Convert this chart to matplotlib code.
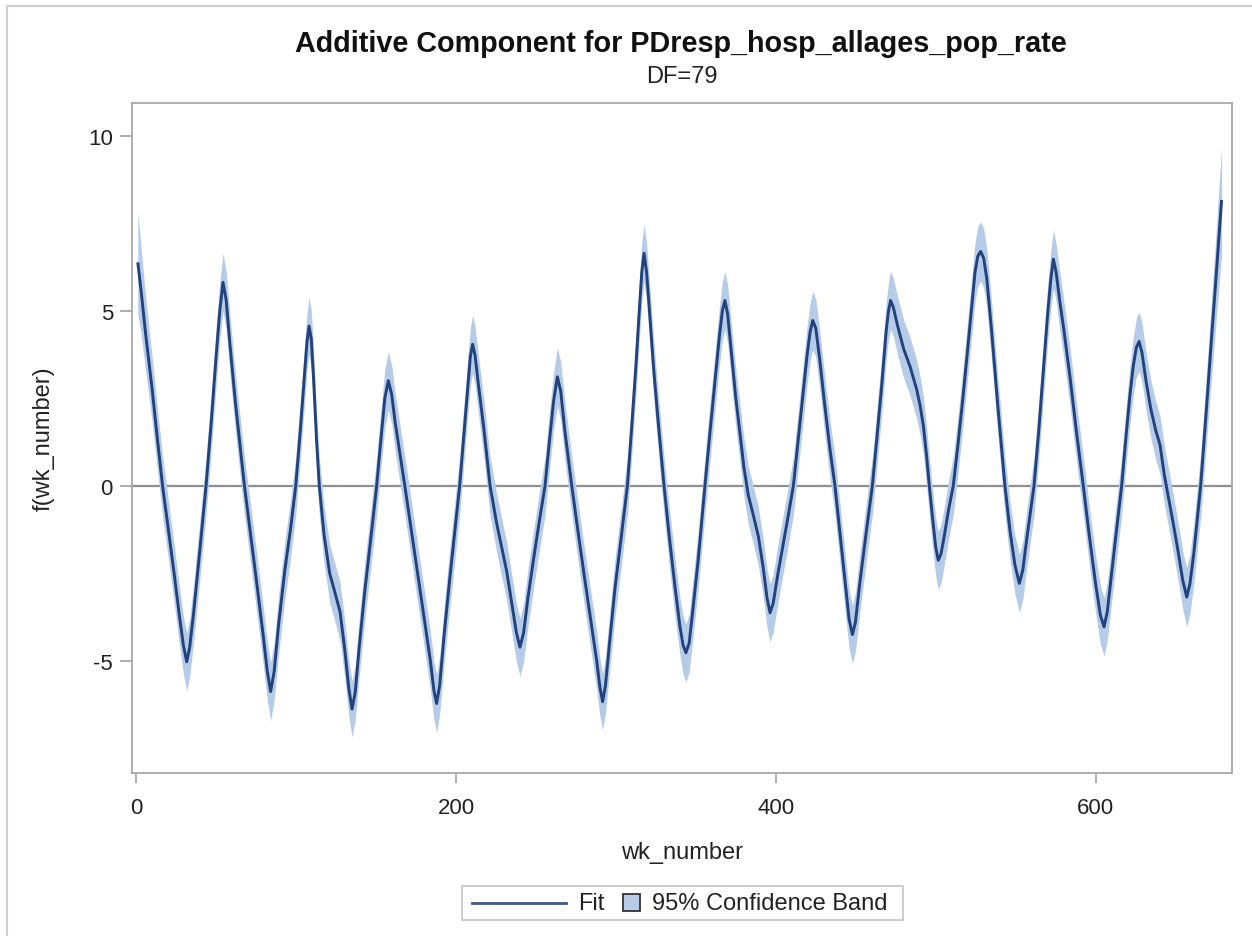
import numpy as np
import matplotlib.pyplot as plt
from matplotlib.lines import Line2D
from matplotlib.patches import Rectangle

plt.rcParams['font.family'] = ['Liberation Sans', 'DejaVu Sans']

# ---------------------------------------------------------------
# data (week number, fitted component, CI half width)
# ---------------------------------------------------------------
wk = [
    1, 3, 6, 10, 13, 16.5, 20, 24, 27, 29.5, 31.6,
    33.5, 36, 40, 43.7, 47, 50, 52.3, 54.3, 56.3, 58.5,
    62, 67.7, 72, 76, 79.5, 82, 84.1, 86.3, 89, 93,
    96.5, 99.8, 102.5, 105, 106.8, 108.1, 109.5, 111, 112.8, 114.5,
    117.5, 121, 124, 127.5, 130.5, 133, 135, 137, 139.5, 143,
    147, 150.4, 153, 155.5, 157.7, 159.8, 162, 165, 168, 172,
    176, 180, 184, 186.2, 187.9, 189.8, 192.5, 196, 199.5, 202.3,
    205, 207.5, 209, 210.4, 212, 214, 217.5, 221.3, 225.5, 228.5,
    231.7, 235, 237.8, 240, 242.3, 245, 248.5, 252, 255.7, 258.5,
    261, 263.4, 265.5, 268, 272.4, 276, 280, 284, 288, 290,
    291.7, 293.5, 296, 299.5, 303, 307.2, 310, 312.5, 314.5, 316.2,
    317.6, 319.2, 321, 323.5, 326.5, 330.1, 333.5, 337, 340, 342,
    343.8, 345.8, 348, 351.5, 355.7, 359, 362, 364.8, 366.6, 368.2,
    369.9, 372, 375, 377.6, 380, 382.8, 386, 389.1, 392, 394.5,
    396.4, 398.4, 401, 404.5, 408, 411, 414, 417, 419.5, 421.5,
    423.1, 425, 427.5, 430.5, 434, 437, 440, 443, 445.8, 447.9,
    449.8, 452.5, 456.5, 460.4, 463.5, 466.5, 469, 470.5, 471.8, 473.5,
    476, 480, 484, 488.1, 490.2, 492.3, 494.2, 496, 498, 500,
    501.6, 503.3, 505.5, 508, 511, 514, 517, 520, 522.5, 524.6,
    526.3, 528.1, 530, 532, 535, 539, 543.3, 546.5, 549.5, 552.3,
    554.5, 557, 561.5, 564.5, 567.5, 570, 572, 573.6, 575.3, 577.5,
    580, 584, 588, 592.3, 596, 600, 603, 605.3, 607.3, 610,
    613, 616.3, 619, 621.5, 623.5, 625.5, 627.2, 629, 631.5, 634.5,
    637.5, 640.3, 643, 646, 648.6, 651.5, 654.5, 657, 659, 661.5,
    665.7, 669, 672, 675, 678.8,
]

fit = [
    6.38, 5.60, 4.30, 2.75, 1.45, 0.00, -1.20, -2.60, -3.70, -4.55, -5.03,
    -4.60, -3.60, -1.75, 0.00, 1.85, 3.70, 5.00, 5.81, 5.30, 4.10,
    2.40, 0.00, -1.55, -3.00, -4.30, -5.30, -5.88, -5.30, -4.00, -2.40,
    -1.25, 0.00, 1.50, 3.00, 4.10, 4.56, 4.20, 3.00, 1.30, 0.00,
    -1.40, -2.50, -3.00, -3.60, -4.70, -5.80, -6.38, -5.90, -4.60, -3.00,
    -1.40, 0.00, 1.30, 2.50, 3.00, 2.60, 1.80, 0.90, 0.00, -1.25,
    -2.50, -3.75, -5.00, -5.85, -6.22, -5.70, -4.30, -2.70, -1.20, 0.00,
    1.50, 2.90, 3.70, 4.04, 3.70, 2.90, 1.60, 0.00, -1.09, -1.75,
    -2.44, -3.40, -4.20, -4.61, -4.20, -3.20, -2.10, -1.05, 0.00, 1.30,
    2.40, 3.11, 2.70, 1.60, 0.00, -1.20, -2.50, -3.75, -5.00, -5.75,
    -6.17, -5.70, -4.50, -2.90, -1.60, 0.00, 1.75, 3.40, 4.90, 6.10,
    6.64, 6.10, 5.00, 3.40, 1.80, 0.00, -1.50, -2.90, -4.00, -4.55,
    -4.77, -4.50, -3.60, -2.10, 0.00, 1.60, 3.00, 4.30, 5.00, 5.29,
    4.90, 3.90, 2.50, 1.50, 0.55, -0.27, -0.85, -1.45, -2.30, -3.20,
    -3.63, -3.35, -2.60, -1.70, -0.80, 0.00, 1.30, 2.60, 3.70, 4.40,
    4.72, 4.50, 3.60, 2.35, 1.00, 0.00, -1.30, -2.60, -3.80, -4.25,
    -3.90, -2.80, -1.35, 0.00, 1.50, 3.00, 4.40, 5.00, 5.29, 5.10,
    4.60, 3.90, 3.40, 2.75, 2.30, 1.71, 0.90, 0.00, -0.90, -1.75,
    -2.13, -1.95, -1.40, -0.70, 0.00, 1.20, 2.50, 3.90, 5.10, 6.10,
    6.55, 6.69, 6.50, 5.90, 4.40, 2.20, 0.00, -1.30, -2.25, -2.79,
    -2.40, -1.50, 0.00, 1.60, 3.40, 4.90, 5.90, 6.47, 6.10, 5.30,
    4.50, 3.10, 1.55, 0.00, -1.40, -2.80, -3.70, -4.03, -3.60, -2.50,
    -1.30, 0.00, 1.40, 2.60, 3.40, 3.95, 4.12, 3.80, 3.00, 2.20,
    1.60, 1.16, 0.30, -0.45, -1.09, -1.85, -2.70, -3.18, -2.80, -1.90,
    0.00, 2.00, 3.90, 5.75, 8.16,
]

band_hw = [
    1.45, 1.25, 1.05, 0.93, 0.88, 0.85, 0.84, 0.83, 0.83, 0.83, 0.83,
    0.83, 0.83, 0.83, 0.83, 0.83, 0.83, 0.83, 0.83, 0.83, 0.83,
    0.83, 0.83, 0.83, 0.83, 0.83, 0.83, 0.83, 0.83, 0.83, 0.83,
    0.83, 0.83, 0.83, 0.83, 0.82, 0.82, 0.82, 0.83, 0.83, 0.83,
    0.83, 0.83, 0.83, 0.83, 0.82, 0.80, 0.79, 0.80, 0.82, 0.83,
    0.83, 0.83, 0.83, 0.83, 0.83, 0.83, 0.83, 0.83, 0.83, 0.83,
    0.83, 0.83, 0.83, 0.83, 0.83, 0.83, 0.83, 0.83, 0.83, 0.83,
    0.83, 0.83, 0.83, 0.83, 0.83, 0.83, 0.83, 0.83, 0.83, 0.83,
    0.83, 0.83, 0.83, 0.83, 0.83, 0.83, 0.83, 0.83, 0.83, 0.83,
    0.83, 0.83, 0.83, 0.83, 0.83, 0.83, 0.83, 0.83, 0.83, 0.83,
    0.80, 0.80, 0.82, 0.83, 0.83, 0.83, 0.83, 0.83, 0.83, 0.83,
    0.83, 0.83, 0.83, 0.83, 0.83, 0.83, 0.83, 0.83, 0.83, 0.83,
    0.83, 0.83, 0.83, 0.83, 0.83, 0.83, 0.83, 0.83, 0.83, 0.83,
    0.83, 0.83, 0.83, 0.83, 0.83, 0.83, 0.83, 0.83, 0.83, 0.83,
    0.83, 0.83, 0.83, 0.83, 0.83, 0.83, 0.83, 0.83, 0.83, 0.83,
    0.83, 0.83, 0.83, 0.83, 0.83, 0.83, 0.83, 0.83, 0.83, 0.83,
    0.83, 0.83, 0.83, 0.83, 0.83, 0.83, 0.83, 0.83, 0.83, 0.83,
    0.83, 0.83, 0.83, 0.83, 0.83, 0.83, 0.83, 0.83, 0.83, 0.83,
    0.83, 0.83, 0.83, 0.83, 0.83, 0.83, 0.83, 0.83, 0.84, 0.85,
    0.85, 0.85, 0.85, 0.84, 0.83, 0.83, 0.83, 0.83, 0.83, 0.83,
    0.83, 0.83, 0.83, 0.83, 0.83, 0.83, 0.83, 0.83, 0.83, 0.83,
    0.83, 0.83, 0.83, 0.83, 0.83, 0.83, 0.83, 0.83, 0.83, 0.83,
    0.83, 0.83, 0.83, 0.83, 0.83, 0.84, 0.85, 0.84, 0.83, 0.83,
    0.83, 0.83, 0.83, 0.83, 0.83, 0.83, 0.83, 0.84, 0.85, 0.87,
    0.90, 0.98, 1.10, 1.25, 1.55,
]

x_ticks = [0, 200, 400, 600]
y_ticks = [-5, 0, 5, 10]
y_tick_labels = ["-5", "0", "5", "10"]

title = "Additive Component for PDresp_hosp_allages_pop_rate"
subtitle = "DF=79"

assert len(wk) == len(fit) == len(band_hw)

wk = np.array(wk)
fit = np.array(fit)
band_hw = np.array(band_hw)
lower = fit - band_hw
upper = fit + band_hw

# ---------------------------------------------------------------
# figure
# ---------------------------------------------------------------
W, H = 1252, 937
band_color = "#b5cbe8"
fit_color = "#22427e"
frame_color = "#a8a8a8"
text_color = "#222222"

fig = plt.figure(figsize=(W / 100, H / 100), dpi=100)
fig.patch.set_facecolor("white")

ax = fig.add_axes([131.7 / W, 1 - 773.5 / H, (1232 - 131.7) / W, (773.5 - 104) / H])
ax.fill_between(wk, lower, upper, color=band_color, lw=0, zorder=2)
ax.plot(wk, fit, color=fit_color, lw=2.1, zorder=3, solid_capstyle="butt")
ax.axhline(0, color="#8f8f8f", lw=1.6, zorder=1.5)

ax.set_xlim(-2.8, 685.3)
ax.set_ylim(-8.19, 10.93)
ax.set_xticks(x_ticks)
ax.set_yticks(y_ticks)
ax.set_yticklabels(y_tick_labels)
for s in ax.spines.values():
    s.set_color(frame_color)
    s.set_linewidth(1.3)
ax.tick_params(axis="x", direction="out", length=7, width=1.3, color=frame_color,
               labelsize=16, labelcolor=text_color, pad=11)
ax.tick_params(axis="y", direction="out", length=8.5, width=1.3, color=frame_color,
               labelsize=16, labelcolor=text_color, pad=5)

ax.set_xlabel("wk_number", fontsize=17, color=text_color, labelpad=16)
ax.set_ylabel("f(wk_number)", fontsize=17, color=text_color, labelpad=24)

fig.text(680.5 / W, 1 - 44 / H, title, ha="center", va="center",
         fontsize=20.7, fontweight="bold", color="#111111")
fig.text(682 / W, 1 - 77 / H, subtitle, ha="center", va="center",
         fontsize=17, color=text_color)

# legend drawn by hand (SAS style: long line handle, small square swatch)
inch = fig.dpi_scale_trans
def px(x, y):
    return x / 100, (H - y) / 100

lx0, ly0 = px(461.7, 920.7)
fig.add_artist(Rectangle((lx0, ly0), (903 - 461.7) / 100, (920.7 - 887) / 100,
                         transform=inch, fill=False, edgecolor="#c8c8c8", lw=1.3))
x0, y0 = px(472, 904)
x1, _ = px(566, 904)
fig.add_artist(Line2D([x0, x1], [y0, y0], transform=inch, color="#3a5a8c", lw=2))
fig.text(*px(578, 904), "Fit", transform=inch, ha="left", va="center",
         fontsize=17, color=text_color)
sx, sy = px(623, 912)
fig.add_artist(Rectangle((sx, sy), 0.17, 0.17, transform=inch,
                         facecolor=band_color, edgecolor="#333333", lw=1.3))
fig.text(*px(652, 904), "95% Confidence Band", transform=inch, ha="left", va="center",
         fontsize=17, color=text_color)

# outer border of the original graph (only left and top visible)
bx, by = px(7, 7)
fig.add_artist(Line2D([bx, bx], [by, 0], transform=inch, color="#cfcfcf", lw=1.5))
fig.add_artist(Line2D([bx, W / 100], [by, by], transform=inch, color="#cfcfcf", lw=1.5))

fig.savefig("out.png", dpi=100, facecolor="white")
